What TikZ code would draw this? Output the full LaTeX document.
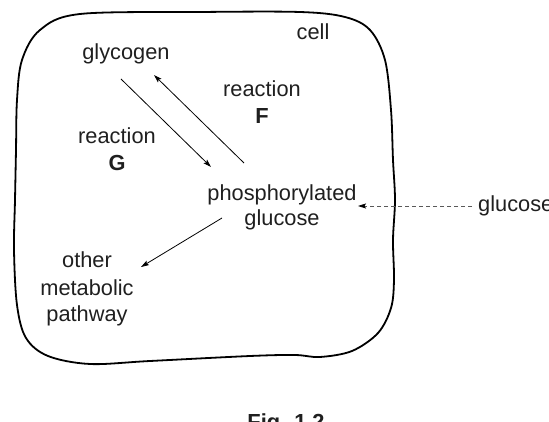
\documentclass[tikz,border=0pt]{standalone}
\usepackage{fontspec}
\setmainfont{Liberation Sans}
\usetikzlibrary{arrows.meta}
\tikzset{
  lbl/.style={anchor=base, inner sep=0pt, text=black!88, font=\fontsize{21.8}{25}\selectfont},
  blbl/.style={lbl, font=\fontsize{21.8}{25}\selectfont\bfseries},
  conn/.style={line width=0.8pt, -{Stealth[length=8pt,width=5pt,inset=1.5pt]}},
  dconn/.style={line width=0.8pt, black!65, dash pattern=on 4pt off 3pt,
    -{Stealth[length=8pt,width=5pt,inset=1.5pt,color=black,sep=0pt]}},
  cellline/.style={line width=1.8pt, line join=round}
}
\begin{document}
\begin{tikzpicture}[x=1pt,y=-1pt]
\useasboundingbox (0,0) rectangle (549,422);
% cell outline
\draw[cellline] plot[smooth cycle, tension=0.55] coordinates {
 (80,14) (200,12) (300,12) (345,17) (370,30) (385,60) (391,110) (393,160)
 (395,200) (393,240) (394,280) (391,308) (378,333) (352,351) (320,357)
 (295,355) (250,356) (150,361) (90,364) (48,356) (26,338) (17,305)
 (14,250) (15,200) (16,150) (17,100) (22,60) (40,30)};
% labels
\node[lbl] (cell) at (313,40) {cell};
\node[lbl] (glycogen) at (126,60) {glycogen};
\node[lbl] (reacF) at (262,97) {reaction};
\node[blbl] (F) at (262,124) {F};
\node[lbl] (reacG) at (117,144) {reaction};
\node[blbl] (G) at (117,171) {G};
\node[lbl] (phos) at (282,201) {phosphorylated};
\node[lbl] (pglu) at (282,226) {glucose};
\node[lbl, anchor=base west] (glucose) at (478,212) {glucose};
\node[lbl] (other) at (87,268) {other};
\node[lbl] (metab) at (87,295) {metabolic};
\node[lbl] (path) at (87,321) {pathway};
\node[blbl] (fig) at (286,429) {Fig. 1.2};
% connector end points
\coordinate (gS) at (121,79);
\coordinate (gE) at (211,167);
\coordinate (fS) at (244,163);
\coordinate (fE) at (154,75);
\coordinate (pS) at (222,218);
\coordinate (pE) at (141,267);
\coordinate (dS) at (472,206);
\coordinate (dE) at (358,206);
% connectors
\draw[conn] (gS) -- (gE);
\draw[conn] (fS) -- (fE);
\draw[conn] (pS) -- (pE);
\draw[dconn] (dS) -- (dE);
\end{tikzpicture}
\end{document}
